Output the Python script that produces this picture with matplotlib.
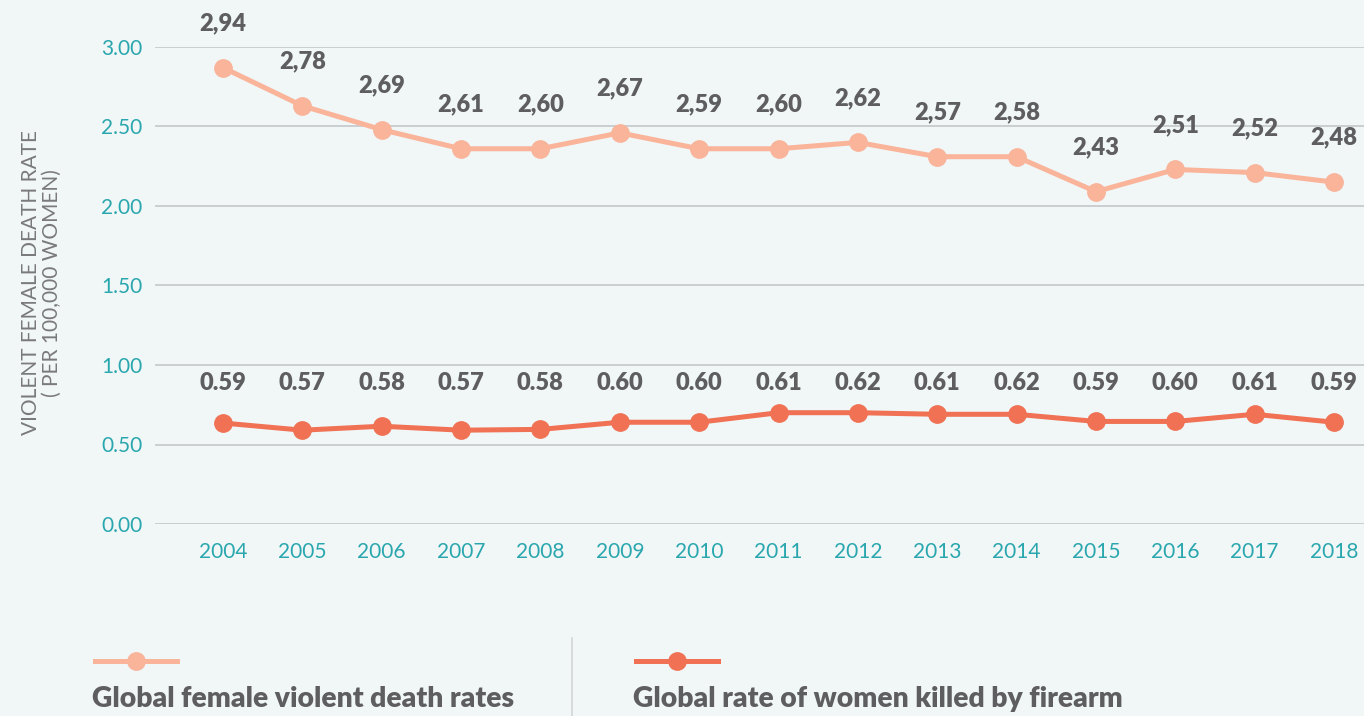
import matplotlib
matplotlib.use("Agg")
import matplotlib.pyplot as plt
from matplotlib.lines import Line2D

# data
years = [2004, 2005, 2006, 2007, 2008, 2009, 2010, 2011, 2012, 2013, 2014, 2015, 2016, 2017, 2018]
violent = [2.87, 2.63, 2.48, 2.36, 2.36, 2.46, 2.36, 2.36, 2.40, 2.31, 2.31, 2.09, 2.23, 2.21, 2.15]
violent_lbl = ["2,94", "2,78", "2,69", "2,61", "2,60", "2,67", "2,59", "2,60", "2,62", "2,57", "2,58", "2,43", "2,51", "2,52", "2,48"]
firearm = [0.635, 0.59, 0.615, 0.59, 0.595, 0.64, 0.64, 0.70, 0.70, 0.69, 0.69, 0.645, 0.645, 0.69, 0.64]
firearm_lbl = ["0.59", "0.57", "0.58", "0.57", "0.58", "0.60", "0.60", "0.61", "0.62", "0.61", "0.62", "0.59", "0.60", "0.61", "0.59"]
yticks = [0.0, 0.5, 1.0, 1.5, 2.0, 2.5, 3.0]
legend_names = ["Global female violent death rates", "Global rate of women killed by firearm"]

bg = "#f1f6f7"
c_violent = "#f9b49a"
c_firearm = "#f07153"
teal = "#2aa7ae"
dark = "#5e5e60"
plt.rcParams['font.family'] = ['Lato', 'DejaVu Sans']

fig = plt.figure(figsize=(13.64, 7.16), dpi=100, facecolor=bg)
ax = fig.add_axes([155/1364, 1-524/716, 1209/1364, 477/716], facecolor=bg)

ax.set_ylim(0, 3.0)
ax.set_xlim(2003.143, 2018.378)
ax.set_yticks(yticks)
ax.set_yticklabels([f"{v:.2f}" for v in yticks])
ax.set_xticks(years)
ax.grid(axis="y", color="#c9cbcd", lw=1.3)
ax.set_axisbelow(True)
for s in ax.spines.values():
    s.set_visible(False)
ax.tick_params(length=0, labelsize=15, labelcolor=teal)
ax.tick_params(axis="x", pad=13)
ax.tick_params(axis="y", pad=9)

ax.plot(years, violent, color=c_violent, lw=3.6, marker="o", ms=12.5, clip_on=False, zorder=3)
ax.plot(years, firearm, color=c_firearm, lw=3.6, marker="o", ms=12.5, clip_on=False, zorder=3)

for x, y, s in zip(years, violent, violent_lbl):
    ax.annotate(s, (x, y), xytext=(0, 32), textcoords="offset points", ha="center", va="center",
                fontsize=17, fontweight="heavy", color=dark, annotation_clip=False)
for x, s in zip(years, firearm_lbl):
    ax.text(x, 0.885, s, ha="center", va="center", fontsize=17, fontweight="heavy", color=dark)

fig.text(41/1364, 1-283/716, "VIOLENT FEMALE DEATH RATE\n( PER 100,000 WOMEN)", rotation=90,
         ha="center", va="center", fontsize=15, color="#7a7a7c", linespacing=1.05)

# legend drawn by hand
for x0, c, name in [(95, c_violent, legend_names[0]), (636, c_firearm, legend_names[1])]:
    fig.add_artist(Line2D([x0/1364, (x0+82)/1364], [1-661/716]*2, color=c, lw=3.6, transform=fig.transFigure))
    fig.add_artist(Line2D([(x0+41)/1364], [1-661/716], color=c, marker="o", ms=12.5, transform=fig.transFigure))
    fig.text((x0-3)/1364, 1-699/716, name, ha="left", va="center", fontsize=20.3, fontweight="heavy", color=dark)
fig.add_artist(Line2D([572/1364]*2, [1-638/716, 0], color="#d3d6d8", lw=1.2, transform=fig.transFigure))

fig.savefig("out.png", dpi=100, facecolor=bg)
